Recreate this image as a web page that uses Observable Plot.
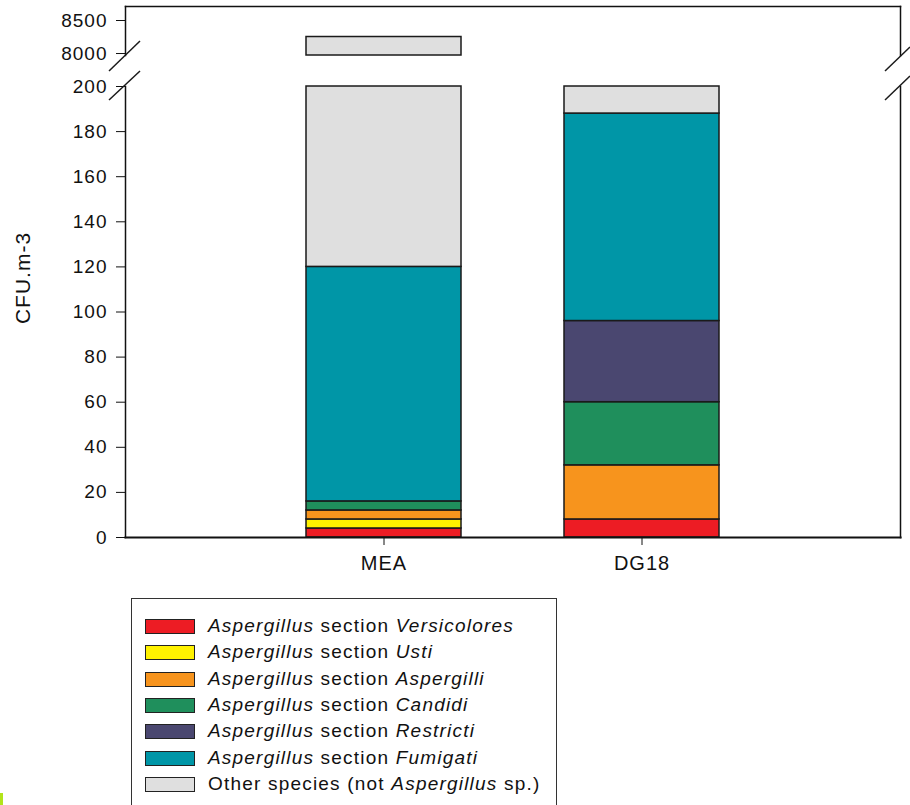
<!DOCTYPE html>
<html>
<head>
<meta charset="utf-8">
<script src="https://cdn.jsdelivr.net/npm/d3@7"></script>
<script src="https://cdn.jsdelivr.net/npm/@observablehq/plot@0.6"></script>
<style>
  html, body { margin: 0; padding: 0; background: #fff; }
  body { width: 910px; height: 805px; overflow: hidden; font-family: "Liberation Sans", Arial, sans-serif; }
  #wrap { position: relative; width: 910px; height: 805px; }
  #wrap svg { position: absolute; left: 0; top: 0; background: transparent; overflow: visible; }
  #wrap svg text { letter-spacing: 1px; }
  #legend { position: absolute; left: 131px; top: 598px; width: 426px; height: 220px; border: 1.5px solid #333; box-sizing: border-box; }
  .row { position: absolute; left: 0; height: 26px; font-size: 19px; letter-spacing: 1.2px; color: #111; white-space: nowrap; }
  .sw { position: absolute; left: 13px; width: 48px; height: 13px; border: 1.5px solid #222; }
  .lab { position: absolute; left: 76px; top: 1px; }
  #artifact { position: absolute; left: 0; top: 793px; width: 3px; height: 12px; background: #b2e41a; }
</style>
</head>
<body>
<div id="wrap">
  <div id="legend"></div>
  <div id="artifact"></div>
</div>
<script>
// ---- data ----
const categories = ["MEA", "DG18"];
const sections = ["Versicolores", "Usti", "Aspergilli", "Candidi", "Restricti", "Fumigati", "Other"];
const colors = ["#ED1C24", "#FFF200", "#F7941D", "#1F8F5C", "#4A4770", "#0096A7", "#DFDFDF"];
const meaValues  = [4, 4, 4, 4, 0, 104, 8130];
const dg18Values = [8, 0, 24, 28, 36, 92, 12];
const lowerTicks = [0, 20, 40, 60, 80, 100, 120, 140, 160, 180, 200];
const upperTicks = [8000, 8500];
const lowerDomain = [0, 200];
const upperDomain = [7970, 8712];
const yLabel = "CFU.m-3";

// build stacked rows
const series = {MEA: meaValues, DG18: dg18Values};
const rows = [];
for (const cat of categories) {
  let acc = 0;
  series[cat].forEach((v, i) => {
    rows.push({cat, section: sections[i], y1: acc, y2: acc + v, value: v});
    acc += v;
  });
}
const nonzero = rows.filter(d => d.value > 0);
const lowerRows = nonzero.filter(d => d.y1 < lowerDomain[1]).map(d => ({...d, y2: Math.min(d.y2, lowerDomain[1])}));
const upperRows = nonzero.filter(d => d.y2 > upperDomain[0]).map(d => ({...d, y1: Math.max(d.y1, upperDomain[0])}));

const W = 910;
const xOpts = {domain: categories, paddingInner: 0.4, paddingOuter: 0.7};
const colorOpts = {domain: sections, range: colors};
const fontFam = "'Liberation Sans', Arial, sans-serif";
const fmt = d3.format("d");

const lower = Plot.plot({
  width: W, height: 600,
  marginTop: 86, marginBottom: 63, marginLeft: 125, marginRight: 10,
  style: {fontFamily: fontFam, fontSize: "19px", color: "#111", background: "transparent"},
  x: {...xOpts, label: null},
  y: {domain: lowerDomain, label: null},
  color: colorOpts,
  marks: [
    Plot.barY(lowerRows, {x: "cat", y1: "y1", y2: "y2", fill: "section", stroke: "#1a1a1a", strokeWidth: 1.5}),
    Plot.axisY({ticks: lowerTicks, tickFormat: fmt, tickSize: 9, tickPadding: 9, fontSize: 19, label: null}),
    Plot.axisX({tickSize: 8, tickPadding: 10, fontSize: 20, label: null}),
    Plot.frame({anchor: "left", stroke: "#111", strokeWidth: 1.5}),
    Plot.frame({anchor: "right", stroke: "#111", strokeWidth: 1.5}),
    Plot.frame({anchor: "bottom", stroke: "#111", strokeWidth: 2.2})
  ]
});

const upper = Plot.plot({
  width: W, height: 60,
  marginTop: 6, marginBottom: 5, marginLeft: 125, marginRight: 10,
  style: {fontFamily: fontFam, fontSize: "19px", color: "#111", background: "transparent"},
  x: {...xOpts, label: null, axis: null},
  y: {domain: upperDomain, label: null},
  color: colorOpts,
  marks: [
    Plot.barY(upperRows, {x: "cat", y1: "y1", y2: "y2", fill: "section", stroke: "#1a1a1a", strokeWidth: 1.5}),
    Plot.axisY({ticks: upperTicks, tickFormat: fmt, tickSize: 9, tickPadding: 9, fontSize: 19, label: null}),
    Plot.frame({anchor: "left", stroke: "#111", strokeWidth: 1.5}),
    Plot.frame({anchor: "right", stroke: "#111", strokeWidth: 1.5}),
    Plot.frame({anchor: "top", stroke: "#111", strokeWidth: 1.5})
  ]
});

const wrap = document.getElementById("wrap");
wrap.appendChild(lower);
wrap.appendChild(upper);

// decoration: axis-break marks and y label
const deco = d3.select(wrap).append("svg").attr("width", W).attr("height", 805)
  .style("position", "absolute").style("left", 0).style("top", 0).style("pointer-events", "none");
const breaks = [[109, 71, 140, 41], [109, 100, 140, 71], [885, 71, 910, 47], [885, 100, 910, 76]];
deco.selectAll("line").data(breaks).join("line")
  .attr("x1", d => d[0]).attr("y1", d => d[1]).attr("x2", d => d[2]).attr("y2", d => d[3])
  .attr("stroke", "#1a1a1a").attr("stroke-width", 1.5);
deco.append("text").text(yLabel)
  .attr("transform", "translate(30,278) rotate(-90)")
  .attr("text-anchor", "middle")
  .attr("font-family", fontFam).attr("font-size", 21).attr("fill", "#111");

// legend
const legendLabels = sections.map(s => s === "Other"
  ? [["Other species (not ", false], ["Aspergillus", true], [" sp.)", false]]
  : [["Aspergillus", true], [" section ", false], [s, true]]);
const legend = document.getElementById("legend");
sections.forEach((s, i) => {
  const row = document.createElement("div");
  row.className = "row";
  row.style.top = (15 + 26.3 * i) + "px";
  const sw = document.createElement("div");
  sw.className = "sw";
  sw.style.background = colors[i];
  sw.style.top = "5px";
  row.appendChild(sw);
  const lab = document.createElement("span");
  lab.className = "lab";
  legendLabels[i].forEach(([t, it]) => {
    const sp = document.createElement("span");
    sp.textContent = t;
    if (it) sp.style.fontStyle = "italic";
    lab.appendChild(sp);
  });
  row.appendChild(lab);
  legend.appendChild(row);
});
</script>
</body>
</html>
